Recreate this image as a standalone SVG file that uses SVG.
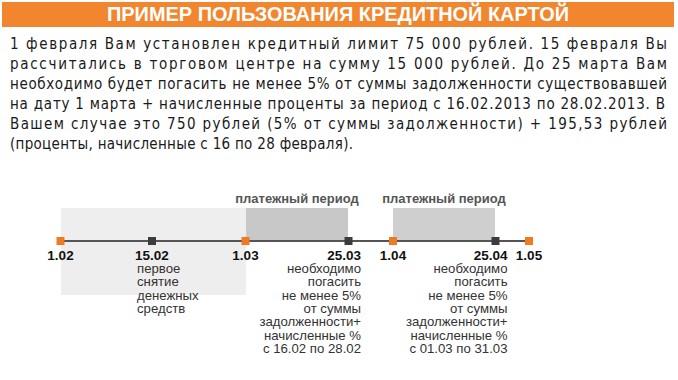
<svg xmlns="http://www.w3.org/2000/svg" width="678" height="380" viewBox="0 0 678 380">
<style>
.body{font-family:"DejaVu Sans",sans-serif;font-stretch:condensed;font-size:15px;fill:#1a1a1a}
.per{font-family:"Liberation Sans",Arial,sans-serif;font-size:13px;font-weight:bold;fill:#555}
.date{font-family:"Liberation Sans",Arial,sans-serif;font-size:13.5px;font-weight:bold;fill:#111}
.desc{font-family:"Liberation Sans",Arial,sans-serif;font-size:13.2px;fill:#333}
.om{fill:#f07a22}
.dm{fill:#3c3c3c}
</style>
<rect width="678" height="380" fill="#fff"/>
<g id="title">
<rect x="2" y="2" width="672" height="25" fill="#f2862e"/>
<text x="107" y="21" font-family="'Liberation Sans',Arial,sans-serif" font-size="19.5" font-weight="bold" fill="#fff" textLength="462" lengthAdjust="spacingAndGlyphs">ПРИМЕР ПОЛЬЗОВАНИЯ КРЕДИТНОЙ КАРТОЙ</text>
</g>
<g id="paragraph" class="body">
<text x="10" y="48.5" textLength="657" lengthAdjust="spacing">1 февраля Вам установлен кредитный лимит 75 000 рублей. 15 февраля Вы</text>
<text x="10" y="68.5" textLength="657" lengthAdjust="spacing">рассчитались в торговом центре на сумму 15 000 рублей. До 25 марта Вам</text>
<text x="10" y="88.5" textLength="657" lengthAdjust="spacing">необходимо будет погасить не менее 5% от суммы задолженности существовавшей</text>
<text x="10" y="108.5" textLength="655" lengthAdjust="spacing">на дату 1 марта  + начисленные проценты за период с 16.02.2013 по 28.02.2013. В</text>
<text x="10" y="128.5" textLength="657" lengthAdjust="spacing">Вашем случае это 750 рублей (5% от суммы задолженности) + 195,53 рублей</text>
<text x="10" y="148.5" textLength="343" lengthAdjust="spacing">(проценты, начисленные с 16 по 28 февраля).</text>
</g>
<g id="backgrounds">
<rect x="61" y="208" width="185" height="87" fill="#eeeeee"/>
<rect x="246" y="208" width="102" height="33" fill="#c8c8c8"/>
<rect x="393" y="208" width="102" height="33" fill="#cfcfcf"/>
</g>
<g id="connectors">
<line x1="60" y1="241" x2="529" y2="241" stroke="#555" stroke-width="2"/>
</g>
<g id="period1"><text class="per" x="297" y="203" text-anchor="middle">платежный период</text></g>
<g id="period2"><text class="per" x="444" y="203" text-anchor="middle">платежный период</text></g>
<g id="d0102">
<rect class="om" x="56.5" y="237" width="8" height="8"/>
<text class="date" x="60.5" y="259.5" text-anchor="middle">1.02</text>
</g>
<g id="d1502">
<rect class="dm" x="148" y="237" width="8" height="8"/>
<text class="date" x="152" y="259.5" text-anchor="middle">15.02</text>
<text class="desc" x="137" y="273">первое</text>
<text class="desc" x="137" y="286.3">снятие</text>
<text class="desc" x="137" y="299.6">денежных</text>
<text class="desc" x="137" y="312.9">средств</text>
</g>
<g id="d0103">
<rect class="om" x="241.5" y="237" width="8" height="8"/>
<text class="date" x="245.5" y="259.5" text-anchor="middle">1.03</text>
</g>
<g id="d2503" text-anchor="end">
<rect class="dm" x="344.5" y="237" width="8" height="8"/>
<text class="date" x="361" y="259.5">25.03</text>
<text class="desc" x="361" y="273">необходимо</text>
<text class="desc" x="361" y="286.3">погасить</text>
<text class="desc" x="361" y="299.6">не менее 5%</text>
<text class="desc" x="361" y="312.9">от суммы</text>
<text class="desc" x="361" y="326.2">задолженности+</text>
<text class="desc" x="361" y="339.5">начисленные %</text>
<text class="desc" x="361" y="352.8">с 16.02 по 28.02</text>
</g>
<g id="d0104">
<rect class="om" x="389" y="237" width="8" height="8"/>
<text class="date" x="393" y="259.5" text-anchor="middle">1.04</text>
</g>
<g id="d2504" text-anchor="end">
<rect class="dm" x="491.5" y="237" width="8" height="8"/>
<text class="date" x="507.5" y="259.5">25.04</text>
<text class="desc" x="507.5" y="273">необходимо</text>
<text class="desc" x="507.5" y="286.3">погасить</text>
<text class="desc" x="507.5" y="299.6">не менее 5%</text>
<text class="desc" x="507.5" y="312.9">от суммы</text>
<text class="desc" x="507.5" y="326.2">задолженности+</text>
<text class="desc" x="507.5" y="339.5">начисленные %</text>
<text class="desc" x="507.5" y="352.8">с 01.03 по 31.03</text>
</g>
<g id="d0105">
<rect class="om" x="525" y="237" width="8" height="8"/>
<text class="date" x="529" y="259.5" text-anchor="middle">1.05</text>
</g>
</svg>
